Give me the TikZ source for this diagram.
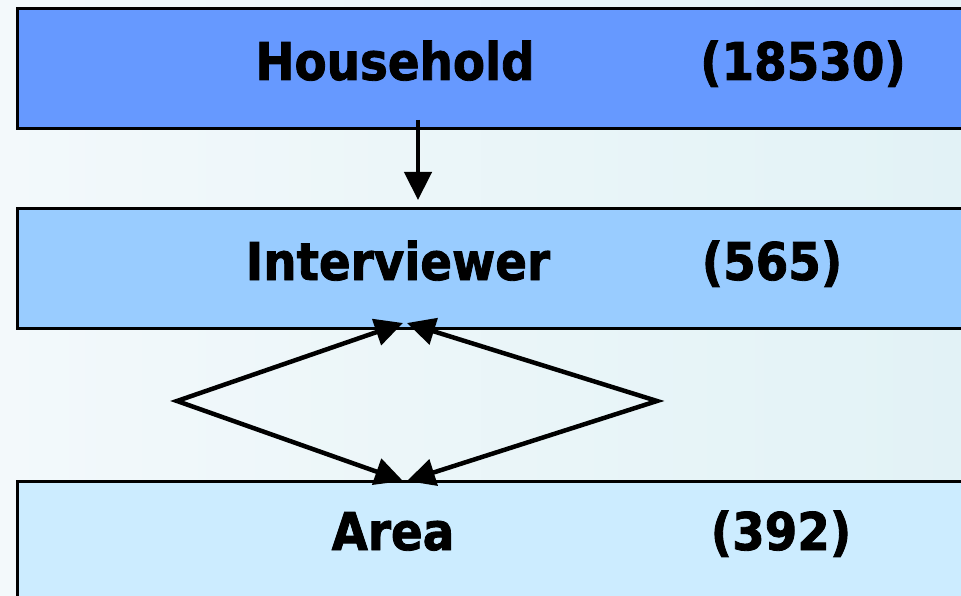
\documentclass[tikz,border=0pt]{standalone}
\usepackage{fontspec}
\newfontfamily\boxfont{DejaVu Sans}[FakeStretch=0.9,FakeBold=1.6]
\usetikzlibrary{arrows.meta}
\definecolor{hhblue}{RGB}{102,153,255}
\definecolor{ivblue}{RGB}{153,204,255}
\definecolor{arblue}{RGB}{204,236,255}
\definecolor{bgleft}{RGB}{243,249,251}
\definecolor{bgright}{RGB}{226,242,246}
\tikzset{
  level/.style={draw=black,line width=3pt,rectangle,anchor=north west,
    minimum width=980pt,inner sep=0pt,outer sep=0pt},
  lbl/.style={font=\boxfont\bfseries\fontsize{52}{60}\selectfont,anchor=base,inner sep=0pt},
  link/.style={line width=4.5pt,-{Triangle[length=28pt,width=27pt]}},
}
\begin{document}
\begin{tikzpicture}[x=1pt,y=-1pt]
      \useasboundingbox (0,0) rectangle (961,596);
      \clip (0,0) rectangle (961,596);
      \shade[left color=bgleft,right color=bgright] (0,0) rectangle (961,596);
      % the three levels
      \node[level,fill=hhblue,minimum height=120pt] (hh) at (17,9) {};
      \node[level,fill=ivblue,minimum height=119pt] (iv) at (17,209) {};
      \node[level,fill=arblue,minimum height=130pt] (ar) at (17,481) {};
      \node[lbl] (hhname) at (395,80) {Household};
      \node[lbl] (hhsize) at (803,80) {(18530)};
      \node[lbl] (ivname) at (398,280) {Interviewer};
      \node[lbl] (ivsize) at (772,280) {(565)};
      \node[lbl] (arname) at (393,550) {Area};
      \node[lbl] (arsize) at (781,550) {(392)};
      % nesting and crossing
      \coordinate (hhdown) at (418,120);
      \coordinate (ivup) at (418,200);
      \draw[link] (hhdown) -- (ivup);
      \coordinate (lpt) at (177,401);
      \coordinate (rpt) at (657,401);
      \coordinate (ivl) at (403,323);
      \coordinate (ivr) at (407,323);
      \coordinate (arl) at (403,481);
      \coordinate (arr) at (407,481);
      \draw[link,{Triangle[length=28pt,width=27pt]}-{Triangle[length=28pt,width=27pt]}] (ivl) -- (lpt) -- (arl);
      \draw[link,{Triangle[length=28pt,width=27pt]}-{Triangle[length=28pt,width=27pt]}] (ivr) -- (rpt) -- (arr);
    \end{tikzpicture}
\end{document}
